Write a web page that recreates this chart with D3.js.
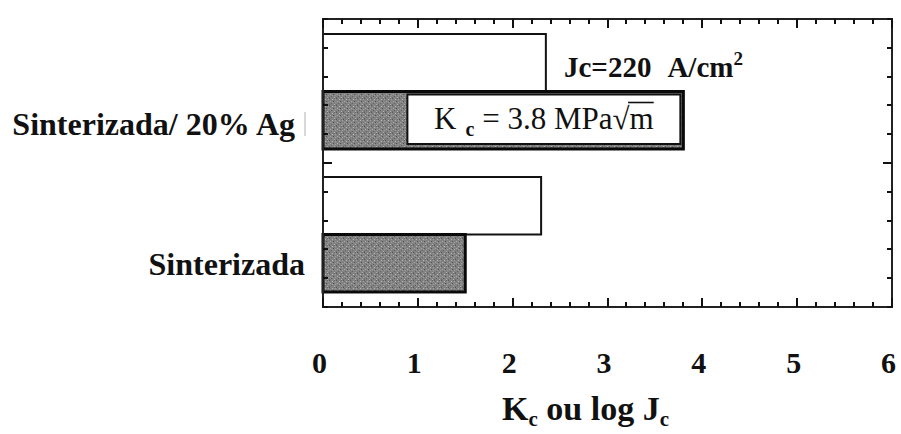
<!DOCTYPE html>
<html>
<head>
<meta charset="utf-8">
<script src="https://cdn.jsdelivr.net/npm/d3@7/dist/d3.min.js"></script>
<style>
  html, body { margin: 0; padding: 0; background: #fff; }
  svg { display: block; }
  text { font-family: "Liberation Serif", "Times New Roman", serif; fill: #111; }
</style>
</head>
<body>
<svg id="chart" width="901" height="434"></svg>
<script>
// ---- data ----
const categories = ["Sinterizada/ 20% Ag", "Sinterizada"];
const series = ["logJc", "Kc"];
const logJcValues = [2.35, 2.30];   // Jc = 220 A/cm2 -> log ~ 2.34
const kcValues = [3.8, 1.5];        // MPa·sqrt(m)
const xTickLabels = [0, 1, 2, 3, 4, 5, 6];

(function () {
// ---- layout ----
const svg = d3.select("#chart");
const pLeft = 323, pRight = 892, pTop = 19, pBottom = 307;

const x = d3.scaleLinear().domain([0, 6]).range([pLeft, pRight]);
const y = d3.scaleBand().domain(categories).range([pTop, pBottom])
  .paddingInner(0.196).paddingOuter(0.105);
const ySub = d3.scaleBand().domain(series).range([0, y.bandwidth()]).padding(0);
const yFrame = d3.scaleLinear().domain([0, 10]).range([pBottom, pTop]);

// speckled gray pattern
const defs = svg.append("defs");
const pat = defs.append("pattern").attr("id", "speckle")
  .attr("patternUnits", "userSpaceOnUse").attr("width", 7).attr("height", 7);
pat.append("rect").attr("width", 7).attr("height", 7).attr("fill", "#828282");
const spots = [
  [0,0,"#5a5a5a"],[3,1,"#b4b4b4"],[5,0,"#666"],[1,3,"#a8a8a8"],[4,3,"#505050"],
  [6,4,"#9c9c9c"],[2,5,"#626262"],[5,6,"#b0b0b0"],[0,6,"#6c6c6c"],[3,4,"#9a9a9a"],
  [6,1,"#a0a0a0"],[1,1,"#727272"]
];
spots.forEach(s => pat.append("rect").attr("x", s[0]).attr("y", s[1])
  .attr("width", 1).attr("height", 1).attr("fill", s[2]));

// ---- bars ----
const rows = categories.map((c, i) => ({ cat: c, logJc: logJcValues[i], Kc: kcValues[i] }));

svg.selectAll("rect.barJ").data(rows).join("rect").attr("class", "barJ")
  .attr("x", x(0))
  .attr("y", d => y(d.cat) + ySub("logJc"))
  .attr("width", d => x(d.logJc) - x(0))
  .attr("height", ySub.bandwidth())
  .attr("fill", "#fff").attr("stroke", "#111").attr("stroke-width", 2);

svg.selectAll("rect.barK").data(rows).join("rect").attr("class", "barK")
  .attr("x", x(0))
  .attr("y", d => y(d.cat) + ySub("Kc"))
  .attr("width", d => x(d.Kc) - x(0))
  .attr("height", ySub.bandwidth())
  .attr("fill", "url(#speckle)").attr("stroke", "#0a0a0a").attr("stroke-width", 3);

// label box inside the first Kc bar
const r0 = rows[0];
const by0 = y(r0.cat) + ySub("Kc");
svg.append("rect")
  .attr("x", x(0.89)).attr("y", by0 + 3)
  .attr("width", x(r0.Kc) - 3 - x(0.89)).attr("height", ySub.bandwidth() - 8)
  .attr("fill", "#fff").attr("stroke", "#111").attr("stroke-width", 2);

const kBase = by0 + 37;
const kt = svg.append("text")
  .attr("x", 434).attr("y", kBase)
  .attr("font-size", 31);
kt.append("tspan").text("K");
kt.append("tspan").attr("dx", 9).attr("dy", 7).attr("font-size", 20).attr("font-weight", "bold").text("c");
kt.append("tspan").attr("dx", 8).attr("dy", -7).text("= " + r0.Kc.toFixed(1) + " MPa√m");
// radical bar over "m"
const ktNode = kt.node();
const nChars = ktNode.getNumberOfChars();
const extR = ktNode.getExtentOfChar(nChars - 2);
const extM = ktNode.getExtentOfChar(nChars - 1);
svg.append("line")
  .attr("x1", extR.x + extR.width - 1.5).attr("x2", extM.x + extM.width)
  .attr("y1", kBase - 26).attr("y2", kBase - 26)
  .attr("stroke", "#111").attr("stroke-width", 1.6);

// Jc annotation
const jt = svg.append("text")
  .attr("x", 564).attr("y", 77)
  .attr("font-size", 29).attr("font-weight", "bold");
jt.append("tspan").text("Jc=220");
jt.append("tspan").attr("dx", 16).text("A/cm");
jt.append("tspan").attr("dy", -12).attr("font-size", 19).text("2");

// ---- frame ----
svg.append("rect").attr("x", pLeft).attr("y", pTop)
  .attr("width", pRight - pLeft).attr("height", pBottom - pTop)
  .attr("fill", "none").attr("stroke", "#222").attr("stroke-width", 2);

// ---- frame ticks (inward) ----
const minorX = d3.range(0, 31).map(i => i / 5);
const isMajorX = v => Math.abs(v - Math.round(v)) < 1e-6;
const yt = d3.range(0, 11);
const p = d3.path();
minorX.forEach(v => {
  const len = isMajorX(v) ? 9 : 5;
  const xv = Math.round(x(v));
  p.moveTo(xv, pBottom); p.lineTo(xv, pBottom - len);
  p.moveTo(xv, pTop); p.lineTo(xv, pTop + len);
});
yt.forEach(v => {
  const len = v === 5 ? 9 : 5;
  const yv = Math.round(yFrame(v));
  p.moveTo(pLeft, yv); p.lineTo(pLeft + len, yv);
  p.moveTo(pRight, yv); p.lineTo(pRight - len, yv);
});
svg.append("path").attr("d", p.toString())
  .attr("fill", "none").attr("stroke", "#111").attr("stroke-width", 2)
  .attr("shape-rendering", "crispEdges");

// ---- category labels ----
const labelEnds = [295, 305];
const labelBase = [135, 275];
svg.selectAll("text.cat").data(categories).join("text").attr("class", "cat")
  .attr("x", (d, i) => labelEnds[i])
  .attr("y", (d, i) => labelBase[i])
  .attr("text-anchor", "end")
  .attr("font-size", 32).attr("font-weight", "bold")
  .text(d => d);

// faint mark next to first label
svg.append("line").attr("x1", 305).attr("x2", 305).attr("y1", 112).attr("y2", 136)
  .attr("stroke", "#d8d8d8").attr("stroke-width", 2);

// ---- x tick labels ----
const xAxis = d3.axisBottom(x).tickValues(xTickLabels).tickSize(0).tickPadding(45)
  .tickFormat(d3.format("d"));
const gx = svg.append("g").attr("transform", `translate(0,${pBottom})`).call(xAxis);
gx.select(".domain").remove();
gx.selectAll("text")
  .attr("dx", -4)
  .attr("font-size", 30).attr("font-weight", "bold")
  .attr("font-family", "Liberation Serif, serif").attr("fill", "#111");

// ---- axis title ----
const tt = svg.append("text").attr("x", 502).attr("y", 420)
  .attr("font-size", 34).attr("font-weight", "bold");
tt.append("tspan").text("K");
tt.append("tspan").attr("dy", 6).attr("font-size", 21).text("c");
tt.append("tspan").attr("dy", -6).text(" ou log J");
tt.append("tspan").attr("dy", 6).attr("font-size", 21).text("c");
})();
</script>
</body>
</html>
